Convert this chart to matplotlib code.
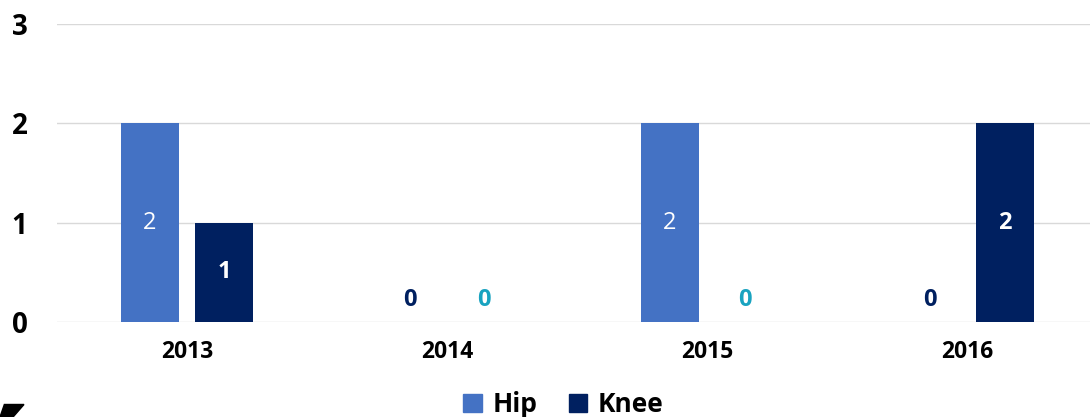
import matplotlib.pyplot as plt
import matplotlib.patches as mpatches
import numpy as np

plt.rcParams['font.family'] = ['Open Sans', 'DejaVu Sans']

years = ["2013", "2014", "2015", "2016"]
hip = [2, 0, 2, 0]
knee = [1, 0, 0, 2]

HIP_COLOR = "#4472C4"
KNEE_COLOR = "#002060"
ZERO_KNEE = "#19A3C0"

fig = plt.figure(figsize=(10.9, 4.17), dpi=100)
ax = fig.add_axes([0.052, 0.228, 0.955, 0.715])

x = np.arange(len(years))
w = 0.223
off = 0.143
b1 = ax.bar(x - off, hip, w, color=HIP_COLOR, zorder=2)
b2 = ax.bar(x + off, knee, w, color=KNEE_COLOR, zorder=2)

for rect, v in zip(b1, hip):
    cx = rect.get_x() + rect.get_width() / 2
    if v > 0:
        ax.text(cx, v / 2, str(v), ha="center", va="center", color="white",
                fontsize=17)
    else:
        ax.text(cx, 0.22, "0", ha="center", va="center", color=KNEE_COLOR,
                fontsize=17, fontweight="bold")
for rect, v in zip(b2, knee):
    cx = rect.get_x() + rect.get_width() / 2
    if v > 0:
        ax.text(cx, v / 2, str(v), ha="center", va="center", color="white",
                fontsize=17, fontweight="bold")
    else:
        ax.text(cx, 0.22, "0", ha="center", va="center", color=ZERO_KNEE,
                fontsize=17, fontweight="bold")

ax.set_xlim(-0.5, 3.5)
ax.set_ylim(0, 3)
ax.set_yticks([0, 1, 2, 3])
ax.set_xticks(x)
ax.set_xticklabels(years, fontsize=16.5, fontweight="bold")
for t in ax.get_yticklabels():
    t.set_fontsize(20)
    t.set_fontweight("bold")
ax.tick_params(axis="both", length=0)
ax.tick_params(axis="y", pad=21)
ax.tick_params(axis="x", pad=13)
ax.grid(axis="y", color="#D9D9D9", linewidth=1, zorder=0)
ax.set_axisbelow(True)
for s in ax.spines.values():
    s.set_visible(False)

handles = [mpatches.Patch(color=HIP_COLOR, label="Hip"),
           mpatches.Patch(color=KNEE_COLOR, label="Knee")]
fig.legend(handles=handles, loc="center", bbox_to_anchor=(0.517, 0.03),
           ncol=2, frameon=False, prop={"size": 19, "weight": "bold"},
           handlelength=0.7, handleheight=0.7, handletextpad=0.4,
           columnspacing=1.2)

# cropped logo fragment in the corner
fig.patches.append(mpatches.Polygon([[0.0, 0.0], [0.012, 0.0], [0.022, 0.03], [0.004, 0.03]],
                                    closed=True, transform=fig.transFigure,
                                    color="black"))

fig.savefig("out.png", dpi=100)
